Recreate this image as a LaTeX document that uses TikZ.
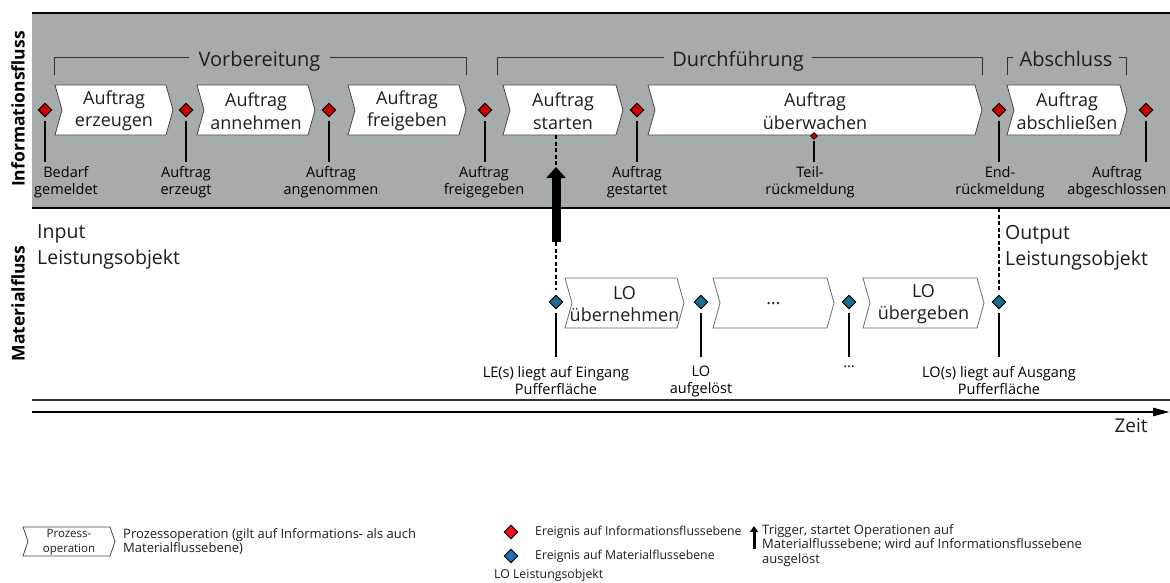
\documentclass[tikz,border=0pt]{standalone}
\usepackage{fontspec}
\setmainfont{Open Sans}
\usetikzlibrary{shapes.geometric,arrows.meta}
\definecolor{band}{RGB}{166,172,171}
\definecolor{ink}{RGB}{30,30,30}
\definecolor{evred}{RGB}{200,0,0}
\definecolor{evteal}{RGB}{26,108,138}
\definecolor{legred}{RGB}{235,20,25}
\definecolor{legblue}{RGB}{30,110,190}
\definecolor{boxedge}{RGB}{70,70,70}
\definecolor{loedge}{RGB}{110,110,110}
\definecolor{brk}{RGB}{50,50,50}
% process operation: chevron outline plus a named text node
% #1 path style, #2 text style, #3 name, #4 x left, #5 x right, #6 y top, #7 y bottom, #8 point depth, #9 text
\newcommand\procbox[9]{%
  \path[#1] (#4,#6) -- (#5,#6) -- ({#5+#8},{(#6+#7)/2}) -- (#5,#7) -- (#4,#7) -- ({#4+#8},{(#6+#7)/2}) -- cycle;
  \node[boxtxt,#2] (#3) at ({(#4+#5+#8)/2},{(#6+#7)/2+1}) {#9};}
\begin{document}
\begin{tikzpicture}[x=1pt,y=-1pt,
  txt/.style={text=ink, inner sep=0pt, align=center},
  boxtxt/.style={txt, font=\fontsize{18}{22.5}\selectfont},
  evlbl/.style={txt, text=black, font=\fontsize{14.5}{17}\selectfont, anchor=north},
  sidelbl/.style={txt, font=\bfseries\fontsize{17.5}{20}\selectfont, text=black, rotate=90},
  bigtxt/.style={txt, align=left, anchor=west, font=\fontsize{19.5}{26}\selectfont},
  legtxt/.style={txt, align=left, anchor=west, font=\fontsize{13}{14.5}\selectfont},
  infoev/.style={diamond, draw=black, line width=0.9pt, fill=evred, minimum width=14pt, minimum height=14pt, inner sep=0pt},
  matev/.style={infoev, fill=evteal},
  stem/.style={draw=black, line width=1.2pt, shorten <=4pt},
  procline/.style={draw=boxedge, fill=white, line width=0.8pt},
  lobox/.style={draw=loedge, fill=white, line width=0.8pt},
  bracket/.style={draw=brk, line width=1pt},
  phase/.style={txt, anchor=base, font=\fontsize{20}{24}\selectfont, inner xsep=9pt},
  trig/.style={draw=black, dash pattern=on 4pt off 2.5pt, line width=1.1pt},
]
\useasboundingbox (0,0) rectangle (1170,582);
\fill[white] (0,0) rectangle (1170,582);

% information flow band
\fill[band] (32,13) rectangle (1170,208);
\draw[line width=2.5pt] (32,13) -- (1170,13);
\draw[line width=2.5pt] (32,208) -- (1170,208);

\node[sidelbl] (lblinfo) at (18,109) {Informationsfluss};
\node[sidelbl] (lblmat) at (18,303.5) {Materialfluss};

% phases
\coordinate (brY) at (0,57);
\node[phase] (ph1) at (259.5,66) {Vorbereitung};
\node[phase, inner xsep=8pt] (ph2) at (738,66) {Durchführung};
\node[phase, inner xsep=6pt] (ph3) at (1066,66) {Abschluss};
\draw[bracket] (54,75) |- (ph1.west |- brY);
\draw[bracket] (ph1.east |- brY) -| (466,75);
\draw[bracket] (497,75) |- (ph2.west |- brY);
\draw[bracket] (ph2.east |- brY) -| (982,75);
\draw[bracket] (1007,75) |- (ph3.west |- brY);
\draw[bracket] (ph3.east |- brY) -| (1126,75);

% process operations on the information level
\procbox{procline}{}{p1}{55}{166}{85}{135}{7}{Auftrag\\erzeugen}
\procbox{procline}{}{p2}{197}{308}{85}{135}{7}{Auftrag\\annehmen}
\procbox{procline}{}{p3}{348}{459}{85}{135}{7}{Auftrag\\freigeben}
\procbox{procline}{}{p4}{503}{616}{85}{135}{7}{Auftrag\\starten}
\procbox{procline}{}{p5}{648}{975}{85}{135}{7}{Auftrag\\überwachen}
\procbox{procline}{}{p6}{1007}{1120}{85}{135}{7}{Auftrag\\abschließen}

% events on the information level
\node[infoev] (e1) at (45,110) {};
\node[infoev] (e2) at (186,110) {};
\node[infoev] (e3) at (329,110) {};
\node[infoev] (e4) at (485,110) {};
\node[infoev] (e5) at (637,110) {};
\node[infoev] (e6) at (999,110) {};
\node[infoev] (e7) at (1146,110) {};
\node[infoev, minimum width=7pt, minimum height=7pt, line width=0.6pt] (e8) at (814,136) {};

\node[evlbl] (l1) at (66,166) {Bedarf\\gemeldet};
\node[evlbl] (l2) at (186,166) {Auftrag\\erzeugt};
\node[evlbl] (l3) at (331,166) {Auftrag\\angenommen};
\node[evlbl] (l4) at (484,166) {Auftrag\\freigegeben};
\node[evlbl] (l5) at (637,166) {Auftrag\\gestartet};
\node[evlbl] (l6) at (1000,166) {End-\\rückmeldung};
\node[evlbl] (l7) at (1117,166) {Auftrag\\abgeschlossen};
\node[evlbl] (l8) at (810,166) {Teil-\\rückmeldung};

\foreach \i in {1,...,7}
  \draw[stem, shorten >=4pt] (e\i.south) -- (e\i.south |- l\i.north);
\draw[stem, shorten <=1pt, shorten >=4pt] (e8.south) -- (e8.south |- l8.north);

% material flow level
\node[bigtxt] (inlo) at (37,247) {Input\\Leistungsobjekt};
\node[bigtxt] (outlo) at (1005,248) {Output\\Leistungsobjekt};

\procbox{lobox}{}{m1}{565}{677}{278}{328}{7}{LO\\übernehmen}
\procbox{lobox}{}{m2}{713}{827}{278}{328}{7}{…}
\procbox{lobox}{}{m3}{863}{977}{278}{328}{7}{LO\\übergeben}

\node[matev] (f1) at (556,302) {};
\node[matev] (f2) at (701,302) {};
\node[matev] (f3) at (849,302) {};
\node[matev] (f4) at (999,302) {};

\node[evlbl] (k1) at (556,366) {LE(s) liegt auf Eingang\\Pufferfläche};
\node[evlbl] (k2) at (701,366) {LO\\aufgelöst};
\node[evlbl] (k3) at (849,366) {…};
\node[evlbl] (k4) at (999,366) {LO(s) liegt auf Ausgang\\Pufferfläche};
\foreach \i in {1,...,4}
  \draw[stem, shorten >=9pt] (f\i.south) -- (f\i.south |- k\i.north);

% trigger from "Auftrag starten" down to the material level
\coordinate (p4b) at (556,135);
\coordinate (trgtop) at (556,167);
\coordinate (trgbot) at (556,242);
\draw[trig] (p4b) -- (trgtop);
\draw[line width=9pt, -{Triangle[length=11pt,width=19pt]}] (trgbot) -- (trgtop);
\draw[trig, shorten >=5pt] (trgbot) -- (f1.north);

% output object link
\coordinate (outtop) at (999,208);
\draw[trig, shorten >=5pt] (outtop) -- (f4.north);

% level borders and time axis
\coordinate (axL) at (32,412);
\coordinate (axR) at (1170,412);
\draw[line width=1.3pt, draw=brk] (32,400) -- (1170,400);
\draw[line width=2.5pt, -{Triangle[length=17pt,width=8pt]}] (axL) -- (axR);
\node[txt, font=\fontsize{19}{22}\selectfont] (zeit) at (1131,426) {Zeit};

% legend
\procbox{procline}{font=\fontsize{11.5}{14.5}\selectfont}{lg1}{23}{110}{527}{556}{5}{Prozess-\\operation}
\node[legtxt] (lgt1) at (123,541.5) {Prozessoperation (gilt auf Informations- als auch\\Materialflussebene)};

\node[infoev, fill=legred] (lgd1) at (511,532) {};
\node[legtxt, font=\fontsize{12.3}{14.5}\selectfont] (lgt2) at (535,532) {Ereignis auf Informationsflussebene};
\node[infoev, fill=legblue] (lgd2) at (511,556) {};
\node[legtxt, font=\fontsize{12.3}{14.5}\selectfont] (lgt3) at (535,556) {Ereignis auf Materialflussebene};
\node[legtxt, font=\fontsize{12.3}{14.5}\selectfont] (lgt4) at (494,575) {LO Leistungsobjekt};

\coordinate (lga1) at (754,549);
\coordinate (lga2) at (754,526);
\draw[line width=3pt, -{Triangle[length=6pt,width=8pt]}] (lga1) -- (lga2);
\node[legtxt] (lgt5) at (762,545.5) {Trigger, startet Operationen auf\\Materialflussebene; wird auf Informationsflussebene\\ausgelöst};
\end{tikzpicture}
\end{document}
